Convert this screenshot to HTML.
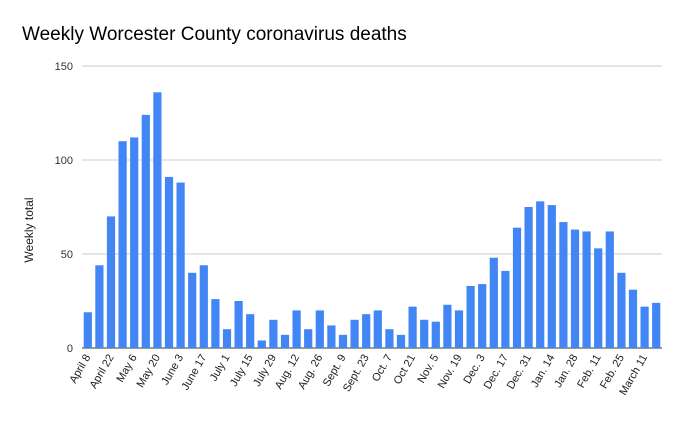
<!DOCTYPE html>
<html><head><meta charset="utf-8"><style>
html,body{margin:0;padding:0;background:#fff;}
svg{display:block;font-family:"Liberation Sans",Arial,sans-serif;}
</style></head><body>
<svg id="chart" width="683" height="423" viewBox="0 0 683 423">
<text x="22" y="40" font-size="19" fill="#000">Weekly Worcester County coronavirus deaths</text>
<text transform="translate(33,230) rotate(-90)" text-anchor="middle" font-size="12" fill="#222">Weekly total</text>
<g id="grid"></g><g id="bars"></g><g id="xlabels"></g>
</svg>
<script>
const categories=["April 8","April 15","April 22","April 29","May 6","May 13","May 20","May 27","June 3","June 10","June 17","June 24","July 1","July 8","July 15","July 22","July 29","Aug. 5","Aug. 12","Aug. 19","Aug. 26","Sept. 2","Sept. 9","Sept. 16","Sept. 23","Sept. 30","Oct. 7","Oct. 14","Oct 21","Oct. 28","Nov. 5","Nov. 12","Nov. 19","Nov. 26","Dec. 3","Dec. 10","Dec. 17","Dec. 24","Dec. 31","Jan. 7","Jan. 14","Jan. 21","Jan. 28","Feb. 4","Feb. 11","Feb. 18","Feb. 25","March 4","March 11","March 18"];
const deaths=[19,44,70,110,112,124,136,91,88,40,44,26,10,25,18,4,15,7,20,10,20,12,7,15,18,20,10,7,22,15,14,23,20,33,34,48,41,64,75,78,76,67,63,62,53,62,40,31,22,24];
const yTicks=[0,50,100,150];
(function(){
const NS="http://www.w3.org/2000/svg";
const plotLeft=82,plotRight=662,plotTop=66,plotBottom=348,yMax=150;
const y=v=>plotBottom-(v/yMax)*(plotBottom-plotTop);
const step=(plotRight-plotLeft)/categories.length;
const x=i=>plotLeft+step*(i+0.5);
const grid=document.getElementById('grid'),bars=document.getElementById('bars'),xl=document.getElementById('xlabels');
yTicks.forEach(t=>{
  const l=document.createElementNS(NS,'line');
  
  
  l.setAttribute('x1',plotLeft);l.setAttribute('x2',plotRight);l.setAttribute('y1',y(t));l.setAttribute('y2',y(t));
  l.setAttribute('stroke',t===0?'#333':'#ccc');l.setAttribute('stroke-width','1');
  grid.appendChild(l);
  const tx=document.createElementNS(NS,'text');
  
  
  tx.setAttribute('x',73);tx.setAttribute('y',y(t)+4);tx.setAttribute('text-anchor','end');tx.setAttribute('font-size','11');tx.setAttribute('fill','#333');
  tx.textContent=t;grid.appendChild(tx);
});
deaths.forEach((v,i)=>{
  const r=document.createElementNS(NS,'rect');
  
  
  const w=8.2;
  r.setAttribute('x',x(i)-w/2);r.setAttribute('y',y(v));r.setAttribute('width',w);r.setAttribute('height',plotBottom-y(v));
  r.setAttribute('fill','#4285f4');
  bars.appendChild(r);
});
categories.forEach((c,i)=>{
  if(i%2!==0)return;
  const t=document.createElementNS(NS,'text');
  
  
  t.setAttribute('transform','translate('+(x(i)+3)+',357) rotate(-60)');
  t.setAttribute('text-anchor','end');t.setAttribute('font-size','11');t.setAttribute('fill','#222');
  t.textContent=c;xl.appendChild(t);
});
})();
</script>
</body></html>
